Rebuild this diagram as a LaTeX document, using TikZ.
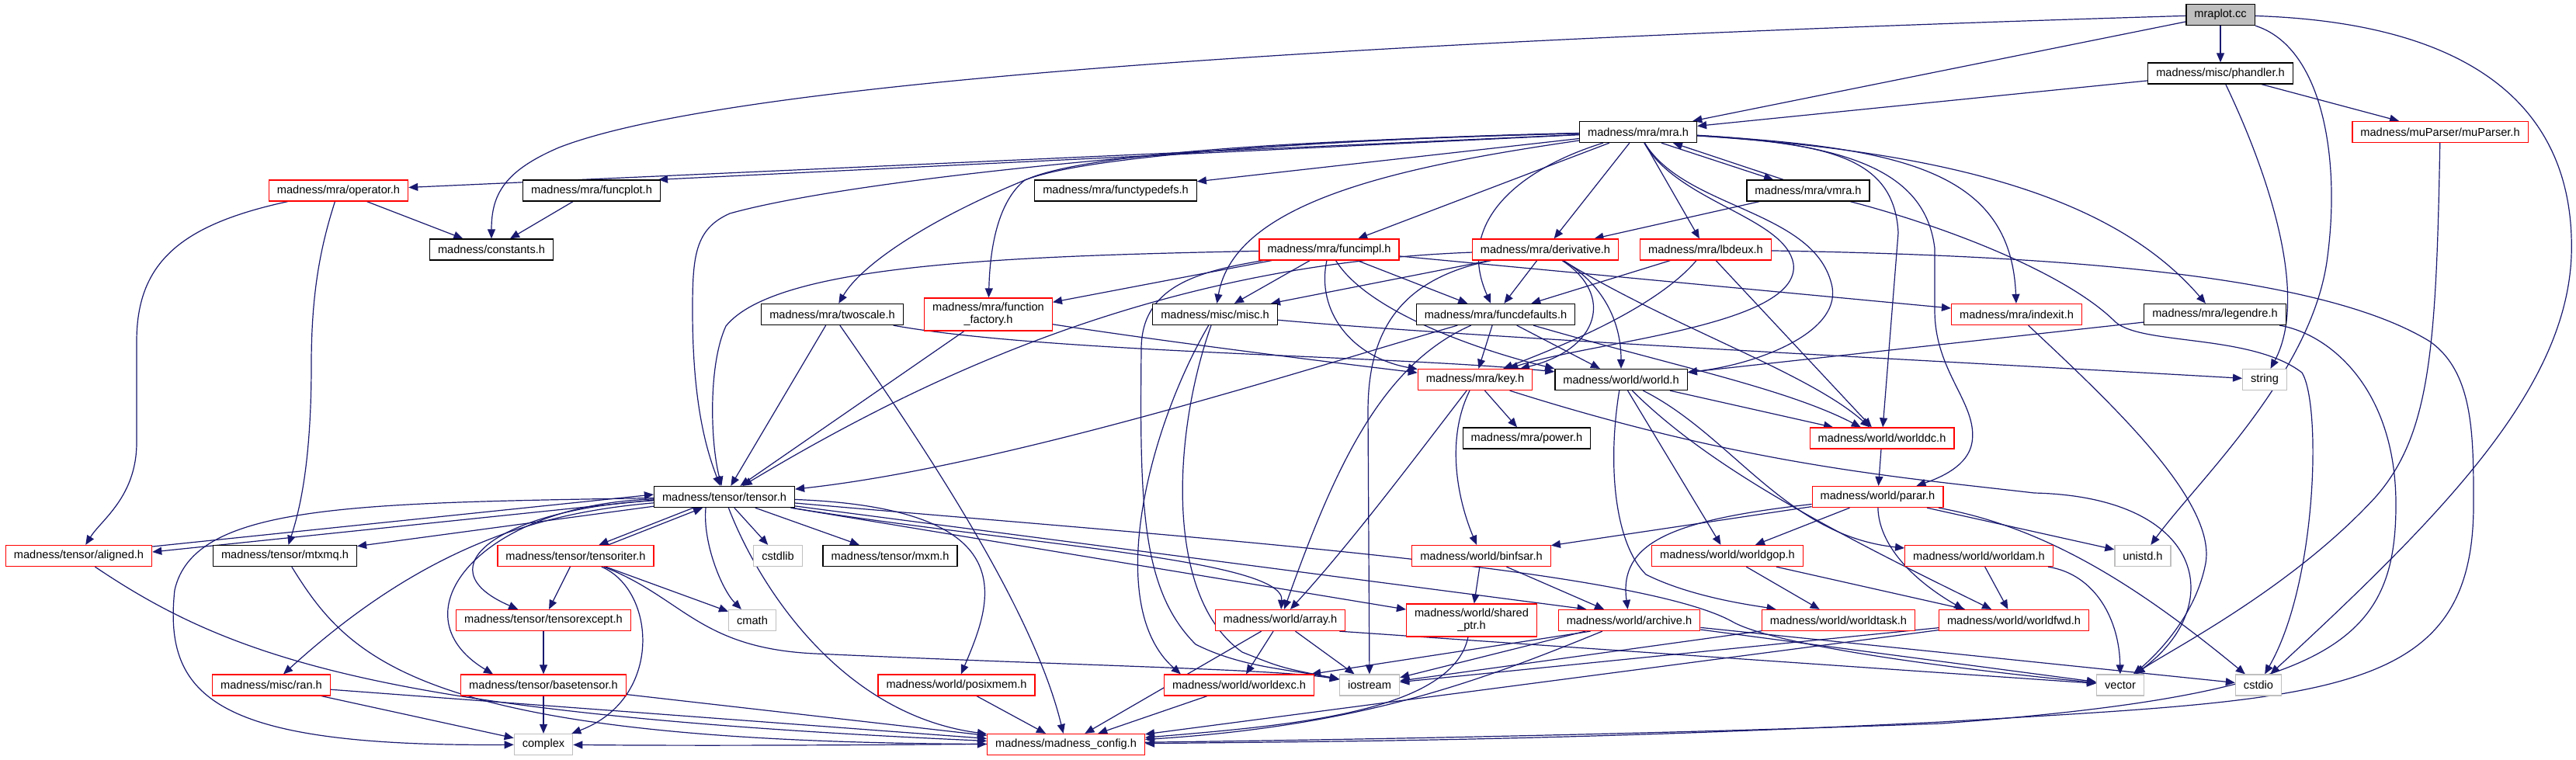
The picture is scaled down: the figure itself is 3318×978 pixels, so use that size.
\documentclass[tikz,border=0pt]{standalone}
\usepackage{fontspec}
\newfontfamily\dfont{Liberation Sans}
\usetikzlibrary{arrows.meta}
\definecolor{edgec}{HTML}{191970}
\definecolor{graybd}{HTML}{BFBFBF}
\definecolor{redbd}{HTML}{FF0000}
\definecolor{fillgray}{HTML}{BFBFBF}
\pgfdeclarelayer{background}
\pgfsetlayers{background,main}
\tikzset{
  nd/.style={draw, line width=1.3pt, fill=white, rectangle, minimum height=27pt, inner xsep=10.5pt, inner ysep=2pt, font=\dfont\fontsize{14.6}{16}\selectfont, text=black},
  bk/.style={nd, draw=black},
  rd/.style={nd, draw=redbd},
  gy/.style={nd, draw=graybd},
  twoline/.style={align=center, minimum height=42pt},
  lnk/.style={draw=edgec, line width=1.2pt, -{Triangle[length=12pt,width=10pt]}},
}
\begin{document}
\begin{tikzpicture}[x=1pt,y=-1pt]
\useasboundingbox (0,0) rectangle (3318,978);
% ---------------- nodes ----------------
\node[bk, fill=fillgray] (mraplot) at (2860,19) {mraplot.cc};
\node[bk] (phandler) at (2860,94.5) {madness/misc/phandler.h};
\node[rd] (muparser) at (3143,170) {madness/muParser/muParser.h};
\node[bk] (mra) at (2110,170) {madness/mra/mra.h};
\node[rd] (operator) at (436,245.5) {madness/mra/operator.h};
\node[bk] (funcplot) at (762,245.5) {madness/mra/funcplot.h};
\node[bk] (functypedefs) at (1437,245.5) {madness/mra/functypedefs.h};
\node[bk] (vmra) at (2329,245.5) {madness/mra/vmra.h};
\node[bk] (constants) at (633,321.5) {madness/constants.h};
\node[rd] (funcimpl) at (1712,321.5) {madness/mra/funcimpl.h};
\node[rd] (derivative) at (1990.5,321.5) {madness/mra/derivative.h};
\node[rd] (lbdeux) at (2197,321.5) {madness/mra/lbdeux.h};
\node[bk] (twoscale) at (1072,405) {madness/mra/twoscale.h};
\node[rd, twoline] (ffactory) at (1273,405) {madness/mra/function\\\_factory.h};
\node[bk] (misc) at (1565,405) {madness/misc/misc.h};
\node[bk] (funcdefaults) at (1926.5,405) {madness/mra/funcdefaults.h};
\node[rd] (indexit) at (2597.5,405) {madness/mra/indexit.h};
\node[bk] (legendre) at (2853,405) {madness/mra/legendre.h};
\node[rd] (key) at (1900,489) {madness/mra/key.h};
\node[bk] (world) at (2088,489) {madness/world/world.h};
\node[gy] (string) at (2917,489) {string};
\node[bk] (power) at (1966.5,564.5) {madness/mra/power.h};
\node[rd] (worlddc) at (2424,564.5) {madness/world/worlddc.h};
\node[bk] (tensor) at (933,640) {madness/tensor/tensor.h};
\node[rd] (parar) at (2418.5,640) {madness/world/parar.h};
\node[rd] (aligned) at (101.5,716) {madness/tensor/aligned.h};
\node[bk] (mtxmq) at (367,716) {madness/tensor/mtxmq.h};
\node[rd] (tensoriter) at (741.5,716) {madness/tensor/tensoriter.h};
\node[gy] (cstdlib) at (1002,716) {cstdlib};
\node[bk] (mxm) at (1146.5,716) {madness/tensor/mxm.h};
\node[rd] (binfsar) at (1908,716) {madness/world/binfsar.h};
\node[rd] (worldgop) at (2225,716) {madness/world/worldgop.h};
\node[rd] (worldam) at (2549,716) {madness/world/worldam.h};
\node[gy] (unistd) at (2760,716) {unistd.h};
\node[rd] (tensorexcept) at (700,799) {madness/tensor/tensorexcept.h};
\node[gy] (cmath) at (969,799) {cmath};
\node[rd] (array) at (1649,799) {madness/world/array.h};
\node[rd, twoline] (sharedptr) at (1895.5,799) {madness/world/shared\\\_ptr.h};
\node[rd] (archive) at (2098.5,799) {madness/world/archive.h};
\node[rd] (worldtask) at (2368,799) {madness/world/worldtask.h};
\node[rd] (worldfwd) at (2594,799) {madness/world/worldfwd.h};
\node[rd] (ran) at (349.5,882.5) {madness/misc/ran.h};
\node[rd] (basetensor) at (700,882.5) {madness/tensor/basetensor.h};
\node[rd] (posixmem) at (1232,882.5) {madness/world/posixmem.h};
\node[rd] (worldexc) at (1596,882.5) {madness/world/worldexc.h};
\node[gy] (iostream) at (1764,882.5) {iostream};
\node[gy] (vector) at (2731,882.5) {vector};
\node[gy] (cstdio) at (2909,882.5) {cstdio};
\node[gy] (complex) at (700,959) {complex};
\node[rd] (config) at (1373,959) {madness/madness\_config.h};
% ---------------- edges ----------------
\begin{pgfonlayer}{background}
\fill[white] (0,0) rectangle (3318,978);
% mraplot.cc
\draw[lnk] (mraplot) -- (phandler);
\draw[lnk] (mraplot) -- (mra);
\draw[lnk] (mraplot) .. controls (1500,60) and (900,120) .. (720,190) .. controls (650,220) and (633,250) .. (constants);
\draw[lnk] (mraplot) .. controls (2990,60) and (3015,200) .. (2998,330) .. controls (2980,480) and (2830,620) .. (unistd);
\draw[lnk] (mraplot) .. controls (3200,30) and (3318,150) .. (3312,330) .. controls (3305,500) and (3150,660) .. (cstdio);
% phandler.h
\draw[lnk] (phandler) -- (mra);
\draw[lnk] (phandler) -- (muparser);
\draw[lnk] (phandler) .. controls (2920,220) and (2975,380) .. (string);
% muParser.h
\draw[lnk] (muparser) .. controls (3138,450) and (3130,560) .. (3060,640) .. controls (2950,760) and (2790,840) .. (vector);
% mra.h
\draw[lnk] (mra) -- (operator);
\draw[lnk] (mra) -- ([xshift=-3pt]funcplot.north east);
\draw[lnk] (mra) -- (functypedefs);
\draw[lnk] (mra) .. controls (1700,180) and (1420,195) .. (1330,228) .. controls (1200,280) and (1110,340) .. (twoscale);
\draw[lnk] (mra) .. controls (1700,180) and (1400,200) .. (1320,232) .. controls (1285,260) and (1275,320) .. (ffactory);
\draw[lnk] (mra) .. controls (1600,180) and (1100,230) .. (940,275) .. controls (895,295) and (892,330) .. (892,400) .. controls (892,520) and (910,580) .. (tensor);
\draw[lnk] (mra) .. controls (1800,215) and (1590,260) .. (misc);
\draw[lnk] (mra) -- (funcimpl);
\draw[lnk] (mra) -- (derivative);
\draw[lnk] (mra) -- (lbdeux);
\draw[lnk] (mra) .. controls (1950,220) and (1875,290) .. (funcdefaults);
\draw[lnk] ([xshift=30pt]mra.south) -- ([xshift=-45pt]vmra.north);
\draw[lnk] ([xshift=-32pt]vmra.north) -- ([xshift=45pt]mra.south);
\draw[lnk] (mra) .. controls (2160,260) and (2300,280) .. (2310,340) .. controls (2320,420) and (2050,440) .. (key);
\draw[lnk] (mra) .. controls (2170,270) and (2340,270) .. (2360,370) .. controls (2370,430) and (2260,470) .. (world);
\draw[lnk] (mra) .. controls (2450,190) and (2590,220) .. (indexit);
\draw[lnk] (mra) .. controls (2500,195) and (2720,250) .. (legendre);
\draw[lnk] (mra) .. controls (2350,185) and (2440,200) .. (2445,300) -- (worlddc);
\draw[lnk] (mra) .. controls (2380,185) and (2480,220) .. (2492,320) -- (2492,400) .. controls (2492,480) and (2548,520) .. (2540,570) .. controls (2535,600) and (2500,615) .. ([xshift=-35pt]parar.north east);
% vmra.h
\draw[lnk] (vmra) -- (derivative);
\draw[lnk] (vmra) .. controls (2500,290) and (2660,350) .. (2725,415) .. controls (2760,445) and (2900,430) .. (2965,480) .. controls (2990,520) and (2985,750) .. (cstdio);
% operator.h, funcplot.h
\draw[lnk] (operator) -- (constants);
\draw[lnk] (funcplot) -- (constants);
\draw[lnk] (operator) .. controls (230,290) and (176,340) .. (176,440) -- (176,570) .. controls (176,640) and (130,670) .. (aligned);
\draw[lnk] (operator) .. controls (412,320) and (401,380) .. (401,470) .. controls (401,600) and (385,660) .. (mtxmq);
% funcimpl.h
\draw[lnk] (funcimpl) -- (ffactory);
\draw[lnk] (funcimpl) -- (misc);
\draw[lnk] (funcimpl) -- (funcdefaults);
\draw[lnk] (funcimpl) -- (indexit);
\draw[lnk] (funcimpl) .. controls (1695,400) and (1740,460) .. (key);
\draw[lnk] (funcimpl) .. controls (1760,400) and (1900,450) .. (world.north west);
\draw[lnk] (funcimpl) .. controls (1300,330) and (1000,340) .. (935,420) .. controls (912,470) and (915,570) .. (tensor);
\draw[lnk] (funcimpl) .. controls (1540,350) and (1470,370) .. (1470,450) .. controls (1468,650) and (1470,760) .. (1540,830) .. controls (1600,860) and (1660,862) .. (iostream);
% derivative.h
\draw[lnk] (derivative) .. controls (1500,340) and (1200,480) .. (tensor);
\draw[lnk] (derivative) -- (misc);
\draw[lnk] (derivative) -- (funcdefaults);
\draw[lnk] (derivative) .. controls (2080,380) and (2060,450) .. (key);
\draw[lnk] (derivative) .. controls (2070,370) and (2088,420) .. (world);
\draw[lnk] (derivative) .. controls (2150,420) and (2330,480) .. (worlddc);
\draw[lnk] (derivative) .. controls (1800,360) and (1762,430) .. (1762,530) -- (iostream);
% lbdeux.h
\draw[lnk] (lbdeux) -- (funcdefaults);
\draw[lnk] (lbdeux) .. controls (2130,400) and (2000,450) .. (key);
\draw[lnk] (lbdeux) -- (worlddc);
\draw[lnk] (lbdeux) .. controls (2700,330) and (3000,360) .. (3130,440) .. controls (3186,480) and (3186,560) .. (3186,650) .. controls (3186,900) and (3000,900) .. (2500,930) .. controls (2000,955) and (1700,955) .. (config);
% legendre.h, indexit.h
\draw[lnk] (legendre) -- (world);
\draw[lnk] (legendre) .. controls (3000,430) and (3086,500) .. (3086,650) .. controls (3086,830) and (3000,895) .. (2500,932) .. controls (1800,958) and (1000,962) .. (complex);
\draw[lnk] (indexit) .. controls (2720,520) and (2860,650) .. (2840,730) .. controls (2825,800) and (2770,850) .. (vector);
% twoscale.h
\draw[lnk] (twoscale) -- (tensor);
\draw[lnk] (twoscale) .. controls (1350,455) and (1800,458) .. ([yshift=-4pt]world.north west);
\draw[lnk] (twoscale) .. controls (1180,560) and (1330,780) .. (config);
% function_factory.h
\draw[lnk] (ffactory) -- (tensor);
\draw[lnk] (ffactory) .. controls (1500,440) and (1700,465) .. (key);
% misc.h
\draw[lnk] (misc) .. controls (1900,435) and (2500,465) .. (string);
\draw[lnk] (misc) .. controls (1480,550) and (1420,780) .. ([xshift=22pt]worldexc.north west);
\draw[lnk] (misc) .. controls (1510,560) and (1500,770) .. (1600,840) .. controls (1650,860) .. (iostream);
% funcdefaults.h
\draw[lnk] (funcdefaults) -- (key);
\draw[lnk] (funcdefaults) -- (world);
\draw[lnk] (funcdefaults) .. controls (2150,470) and (2300,500) .. (worlddc);
\draw[lnk] (funcdefaults) .. controls (1700,470) and (1300,600) .. (tensor);
\draw[lnk] (funcdefaults) .. controls (1780,470) and (1720,600) .. (array);
% key.h
\draw[lnk] (key) -- (power);
\draw[lnk] (key) .. controls (1830,580) and (1740,700) .. (array);
\draw[lnk] (key) .. controls (1860,570) and (1880,650) .. (binfsar);
\draw[lnk] (key) .. controls (2250,600) and (2450,615) .. (2620,635) .. controls (2840,640) and (2870,780) .. (vector);
% world.h
\draw[lnk] (world) -- (worlddc);
\draw[lnk] (world) -- (worldgop);
\draw[lnk] (world) .. controls (2070,600) and (2080,700) .. (2120,740) .. controls (2180,770) and (2260,780) .. (worldtask);
\draw[lnk] (world) .. controls (2200,600) and (2350,680) .. (worldfwd);
\draw[lnk] (world) .. controls (2230,560) and (2300,690) .. (worldam);
% worlddc.h, parar.h
\draw[lnk] (worlddc) -- (parar);
\draw[lnk] (parar) -- (binfsar);
\draw[lnk] (parar) .. controls (2150,670) and (2085,700) .. (archive);
\draw[lnk] (parar) -- (worldgop);
\draw[lnk] (parar) .. controls (2420,700) and (2460,745) .. ([xshift=-65pt]worldfwd.north);
\draw[lnk] (parar) -- (unistd);
\draw[lnk] (parar) .. controls (2640,680) and (2760,760) .. (cstdio);
% worldgop.h, worldam.h, worldtask.h, worldfwd.h
\draw[lnk] (worldgop) -- (worldtask);
\draw[lnk] (worldgop) -- (worldfwd);
\draw[lnk] (worldam) -- (worldfwd);
\draw[lnk] (worldam) .. controls (2700,740) and (2730,800) .. (vector);
\draw[lnk] (worldtask) -- (iostream);
\draw[lnk] (worldfwd) -- (iostream);
\draw[lnk] (worldfwd) -- (config);
% binfsar.h, archive.h
\draw[lnk] (binfsar) -- (sharedptr);
\draw[lnk] (binfsar) -- (archive);
\draw[lnk] (archive) -- (iostream);
\draw[lnk] ([xshift=-50pt]archive.south) -- ([xshift=-4pt]worldexc.north east);
\draw[lnk] (archive) .. controls (1900,880) and (1750,935) .. (config);
\draw[lnk] (archive) -- (vector);
\draw[lnk] (archive) -- (cstdio);
% array.h, shared_ptr.h, worldexc.h, posixmem.h
\draw[lnk] (array) -- (worldexc);
\draw[lnk] (array) -- (iostream);
\draw[lnk] ([xshift=-8pt]array.south east) -- (vector);
\draw[lnk] (array) -- (config);
\draw[lnk] (sharedptr) .. controls (1870,920) and (1650,935) .. (config);
\draw[lnk] (worldexc) -- (config);
\draw[lnk] (posixmem) -- (config);
% tensor.h
\draw[lnk] ([yshift=-4pt]tensor.west) -- ([yshift=5pt]aligned.east);
\draw[lnk] ([yshift=12pt]aligned.east) -- ([yshift=3pt]tensor.west);
\draw[lnk] (tensor) -- (mtxmq);
\draw[lnk] ([xshift=-40pt]tensor.south) -- ([xshift=30pt]tensoriter.north);
\draw[lnk] ([xshift=42pt]tensoriter.north) -- ([xshift=-28pt]tensor.south);
\draw[lnk] (tensor) -- (cstdlib);
\draw[lnk] (tensor) -- (mxm);
\draw[lnk] ([xshift=-24pt]tensor.south) .. controls (905,700) and (930,760) .. (cmath);
\draw[lnk] (tensor) .. controls (975,750) and (1080,920) .. (config);
\draw[lnk] (tensor) .. controls (1330,655) and (1275,780) .. (posixmem);
\draw[lnk] (tensor) .. controls (1300,700) and (1655,720) .. (array);
\draw[lnk] (tensor) .. controls (1500,690) and (2100,730) .. (2230,800) .. controls (2280,830) and (2500,860) .. (vector);
\draw[lnk] (tensor) -- ([xshift=-55pt]archive.north);
\draw[lnk] (tensor) -- (sharedptr);
\draw[lnk] (tensor) .. controls (450,648) and (250,650) .. (225,760) .. controls (210,900) and (280,962) .. (complex);
\draw[lnk] (tensor) .. controls (700,660) and (550,700) .. (ran);
\draw[lnk] (tensor) .. controls (650,655) and (540,730) .. (tensorexcept);
\draw[lnk] (tensor) .. controls (620,650) and (505,790) .. ([xshift=-65pt]basetensor.north);
% tensoriter.h, tensorexcept.h, basetensor.h
\draw[lnk] (tensoriter) -- (tensorexcept);
\draw[lnk] (tensoriter) .. controls (845,760) and (855,900) .. ([xshift=-2pt]complex.north east);
\draw[lnk] (tensoriter) -- (cmath);
\draw[lnk] (tensoriter) .. controls (880,770) and (900,835) .. (1050,842) .. controls (1400,858) and (1650,862) .. (iostream);
\draw[lnk] (tensorexcept) -- (basetensor);
\draw[lnk] (basetensor) -- (complex);
\draw[lnk] (basetensor) -- (config);
% ran.h, aligned.h, mtxmq.h
\draw[lnk] (ran) -- (complex);
\draw[lnk] (ran) -- (config);
\draw[lnk] (aligned) .. controls (300,850) and (500,920) .. (config);
\draw[lnk] (mtxmq) .. controls (450,850) and (540,955) .. (config);
\end{pgfonlayer}
\end{tikzpicture}
\end{document}
